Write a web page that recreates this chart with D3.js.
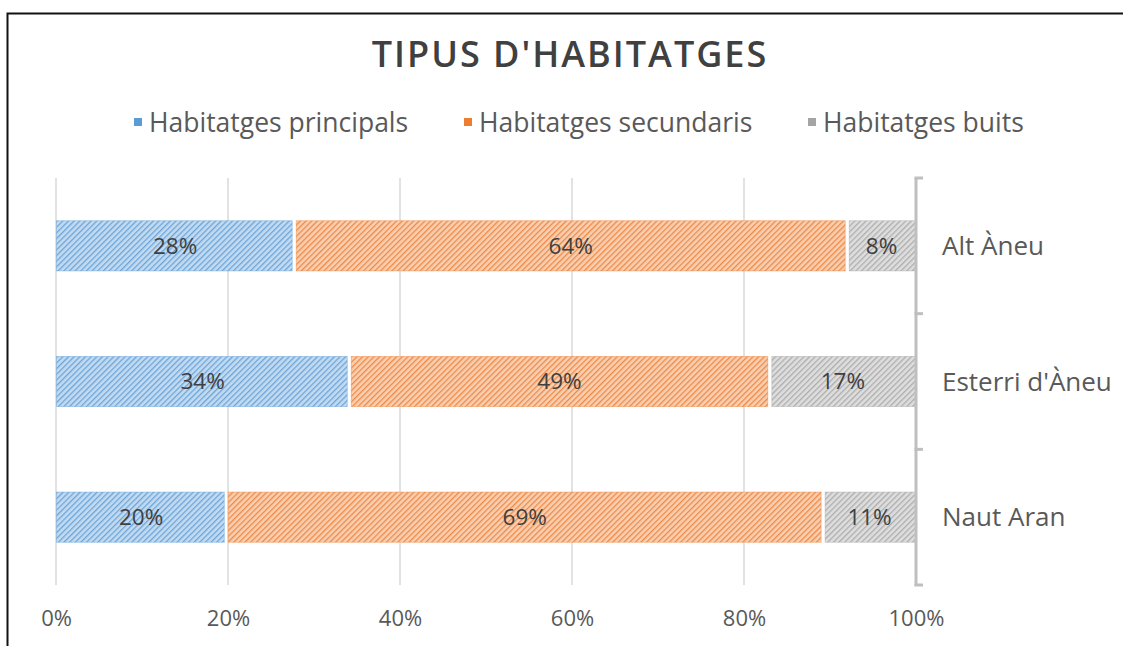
<!DOCTYPE html>
<html>
<head>
<meta charset="utf-8">
<script src="https://cdn.jsdelivr.net/npm/d3@7"></script>
<style>
  body { margin: 0; background: #fff; }
  svg { display: block; font-family: "Open Sans", "Lato", sans-serif; }
</style>
</head>
<body>
<svg id="chart" width="1123" height="646"></svg>
<script>
// dades
const municipis = ["Alt Àneu", "Esterri d'Àneu", "Naut Aran"];
const series = ["Habitatges principals", "Habitatges secundaris", "Habitatges buits"];
const principals = [27.7, 34.1, 19.8];
const secundaris = [64.3, 48.9, 69.4];
const buits = [8.0, 17.0, 10.8];
const ticks = [0, 20, 40, 60, 80, 100];

const colors = {
  fons: ["#c3dbf1", "#f9cfb2", "#dedede"],
  linia: ["#5b9bd5", "#ed7d31", "#a5a5a5"]
};

const W = 1123, H = 646;
const svg = d3.select("#chart");

// marc de la imatge
svg.append("rect")
  .attr("x", 7.5).attr("y", 13.5)
  .attr("width", W + 10).attr("height", H + 10)
  .attr("fill", "none").attr("stroke", "#111").attr("stroke-width", 2);

// patrons ratllats
const defs = svg.append("defs");
series.forEach((s, i) => {
  const p = defs.append("pattern")
    .attr("id", "hatch" + i)
    .attr("patternUnits", "userSpaceOnUse")
    .attr("width", 4).attr("height", 4)
    .attr("patternTransform", "rotate(45)");
  p.append("rect").attr("width", 4).attr("height", 4).attr("fill", colors.fons[i]);
  p.append("line").attr("x1", 0.7).attr("x2", 0.7).attr("y1", 0).attr("y2", 4)
    .attr("stroke", colors.linia[i]).attr("stroke-width", 1.1);
});

const x = d3.scaleLinear().domain([0, 100]).range([56, 916]);
const y = d3.scaleBand().domain(municipis).range([178, 585]).paddingInner(0.63).paddingOuter(0.315);
const yOuter = d3.scaleBand().domain(municipis).range([178, 585]);

// títol
svg.append("text")
  .attr("x", 570).attr("y", 67)
  .attr("text-anchor", "middle")
  .attr("font-size", 36).attr("font-weight", 600)
  .attr("letter-spacing", 2)
  .attr("fill", "#404040")
  .text("TIPUS D'HABITATGES");

// llegenda
const legendX = [134, 464, 808];
series.forEach((s, i) => {
  const g = svg.append("g").attr("transform", `translate(${legendX[i]},123)`);
  g.append("rect").attr("x", 0).attr("y", -5).attr("width", 8).attr("height", 8)
    .attr("fill", colors.linia[i]);
  g.append("text").attr("x", 15).attr("y", 0).attr("dy", "0.35em")
    .attr("font-size", 26.5).attr("fill", "#595959").text(s);
});

// línies de la graella
svg.append("g").selectAll("line")
  .data(ticks.slice(0, -1))
  .join("line")
  .attr("x1", d => x(d)).attr("x2", d => x(d))
  .attr("y1", 178).attr("y2", 585)
  .attr("stroke", "#d9d9d9").attr("stroke-width", 1.5);

// eix x (etiquetes)
const xAxis = svg.append("g")
  .attr("transform", "translate(0,585)")
  .call(d3.axisBottom(x).tickValues(ticks).tickFormat(d => d + "%").tickSize(0).tickPadding(25));
xAxis.select(".domain").remove();
xAxis.selectAll("text").attr("font-size", 22).attr("fill", "#595959")
  .attr("font-family", "'Open Sans', Lato, sans-serif");

// barres apilades
const rows = municipis.map((m, i) => ({ m, vals: [principals[i], secundaris[i], buits[i]] }));
const segs = [];
rows.forEach(r => {
  let acc = 0;
  r.vals.forEach((v, k) => {
    segs.push({ m: r.m, k, v, x0: acc, x1: acc + v });
    acc += v;
  });
});

const barG = svg.append("g");
barG.selectAll("rect")
  .data(segs)
  .join("rect")
  .attr("x", d => x(d.x0) + (d.k === 0 ? 0.5 : 2))
  .attr("width", d => x(d.x1) - x(d.x0) - (d.k === 0 ? 2.5 : d.k === 2 ? 2 : 4))
  .attr("y", d => y(d.m))
  .attr("height", y.bandwidth())
  .attr("fill", d => `url(#hatch${d.k})`)
  .attr("stroke", d => colors.linia[d.k])
  .attr("stroke-opacity", 0.5)
  .attr("stroke-width", 0.8);

barG.selectAll("text")
  .data(segs)
  .join("text")
  .attr("x", d => x((d.x0 + d.x1) / 2))
  .attr("y", d => y(d.m) + y.bandwidth() / 2)
  .attr("dy", "0.35em")
  .attr("text-anchor", "middle")
  .attr("font-size", 22.5)
  .attr("fill", "#404040")
  .text(d => Math.round(d.v) + "%");

// eix vertical a la dreta
const yAxis = svg.append("g").attr("transform", "translate(916,0)");
yAxis.append("line")
  .attr("x1", 0).attr("x2", 0).attr("y1", 178).attr("y2", 586)
  .attr("stroke", "#bfbfbf").attr("stroke-width", 3);
yAxis.selectAll("line.tick")
  .data(municipis.map(m => yOuter(m)).concat([585]))
  .join("line")
  .attr("class", "tick")
  .attr("x1", -1.5).attr("x2", 7)
  .attr("y1", d => d).attr("y2", d => d)
  .attr("stroke", "#bfbfbf").attr("stroke-width", 3);
yAxis.selectAll("text")
  .data(municipis)
  .join("text")
  .attr("x", 26)
  .attr("y", d => y(d) + y.bandwidth() / 2)
  .attr("dy", "0.35em")
  .attr("font-size", 26)
  .attr("fill", "#595959")
  .text(d => d);
</script>
</body>
</html>
